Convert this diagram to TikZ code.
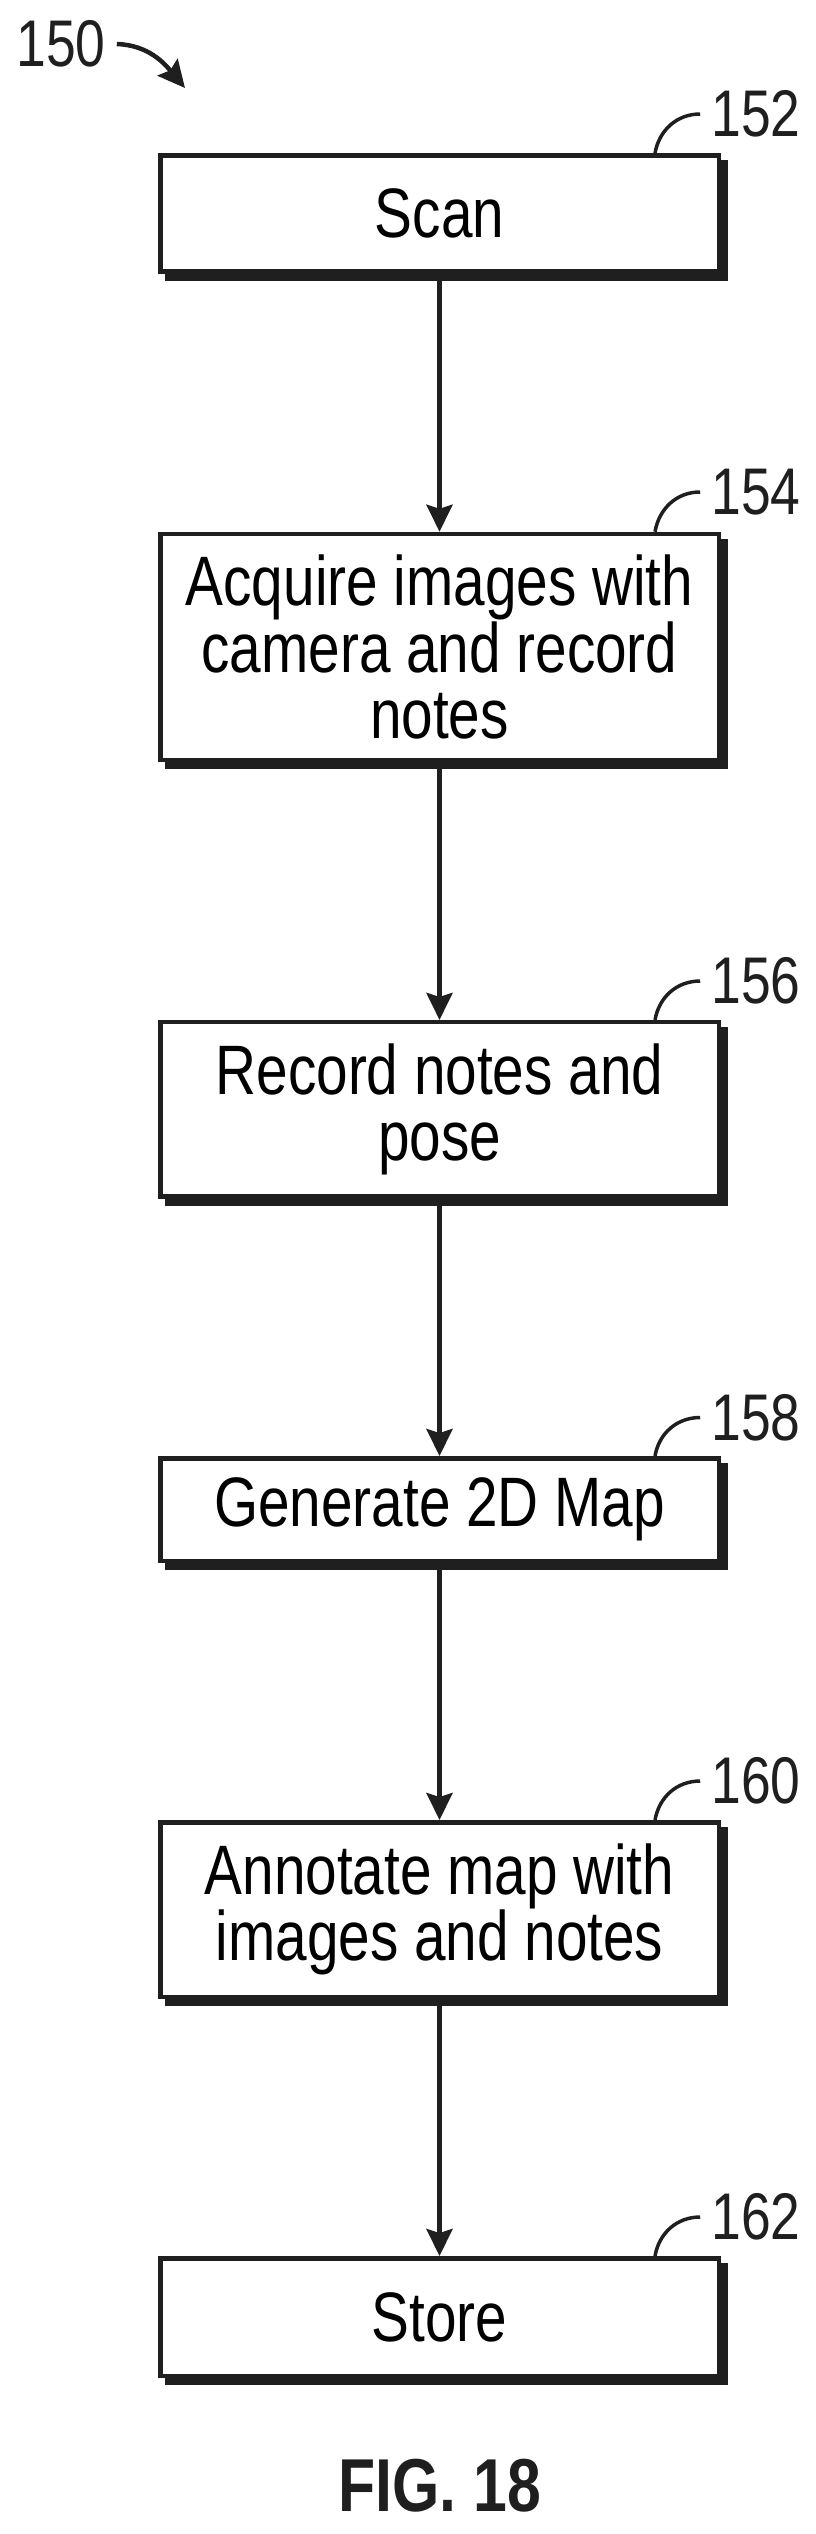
\documentclass[tikz,border=0pt]{standalone}
\usepackage{fontspec}
\setmainfont[FakeStretch=0.81]{Liberation Sans}
\usetikzlibrary{arrows.meta}
\usetikzlibrary{calc}
\usetikzlibrary{shadows}
\definecolor{ink}{gray}{0.12}
\tikzset{
    stepbox/.style={draw=ink, line width=4.5pt, fill=white, minimum width=558.5pt, inner sep=0pt, align=center,
        font=\fontsize{70}{66.7}\selectfont,
        drop shadow={shadow xshift=6.5pt, shadow yshift=-7pt, fill=ink, draw=ink, opacity=1}},
    reflabel/.style={inner sep=11pt, text=ink, font=\fontsize{66}{66}\selectfont},
    flowline/.style={draw=ink, line width=4.5pt, -{Stealth[length=27pt, width=26pt, inset=4pt]}},
    leader/.style={draw=ink, line width=3.5pt},
}
\begin{document}
\begin{tikzpicture}[x=1pt, y=-1pt, line cap=butt]
    % page of the figure
    \useasboundingbox (0, 0) rectangle (816, 2534);
    \def\cx{439.5}

    \node[stepbox, minimum height=116.25pt] (scan) at (\cx, 213.6) {Scan};
    \node[stepbox, minimum height=226pt] (acquire) at (\cx, 647) {Acquire images with\\camera and record\\notes};
    \node[stepbox, minimum height=174.2pt] (record) at (\cx, 1109.3) {Record notes and\\pose};
    \node[stepbox, minimum height=102.5pt] (map) at (\cx, 1509.5) {Generate 2D Map};
    \node[stepbox, minimum height=174.5pt] (annotate) at (\cx, 1909.5) {Annotate map with\\images and notes};
    \node[stepbox, minimum height=117.5pt] (store) at (\cx, 2317) {Store};

    \node[reflabel] (num150) at (61, 44) {150};
    \node[reflabel] (num152) at (756, 114) {152};
    \node[reflabel] (num154) at (756, 492) {154};
    \node[reflabel] (num156) at (756, 981) {156};
    \node[reflabel] (num158) at (756, 1417.5) {158};
    \node[reflabel] (num160) at (756, 1781) {160};
    \node[reflabel] (num162) at (756, 2217) {162};
    \node[font=\fontsize{75}{75}\selectfont\bfseries, text=ink, inner sep=0pt] (figlabel) at (440, 2485.5) {FIG. 18};

    \draw[flowline] (scan) -- (acquire);
    \draw[flowline] (acquire) -- (record);
    \draw[flowline] (record) -- (map);
    \draw[flowline] (map) -- (annotate);
    \draw[flowline] (annotate) -- (store);

    % leaders from the numbers to the boxes
    \draw[leader] (num152.west) to[out=180, in=80] ($(scan.north east)+(-66,0)$);
    \draw[leader] (num154.west) to[out=180, in=80] ($(acquire.north east)+(-66,0)$);
    \draw[leader] (num156.west) to[out=180, in=80] ($(record.north east)+(-66,0)$);
    \draw[leader] (num158.west) to[out=180, in=80] ($(map.north east)+(-66,0)$);
    \draw[leader] (num160.west) to[out=180, in=80] ($(annotate.north east)+(-66,0)$);
    \draw[leader] (num162.west) to[out=180, in=80] ($(store.north east)+(-66,0)$);

    \coordinate (tip150) at (185, 88);
    \draw[flowline] (num150.east) to[out=-2, in=130] (tip150);
\end{tikzpicture}
\end{document}
